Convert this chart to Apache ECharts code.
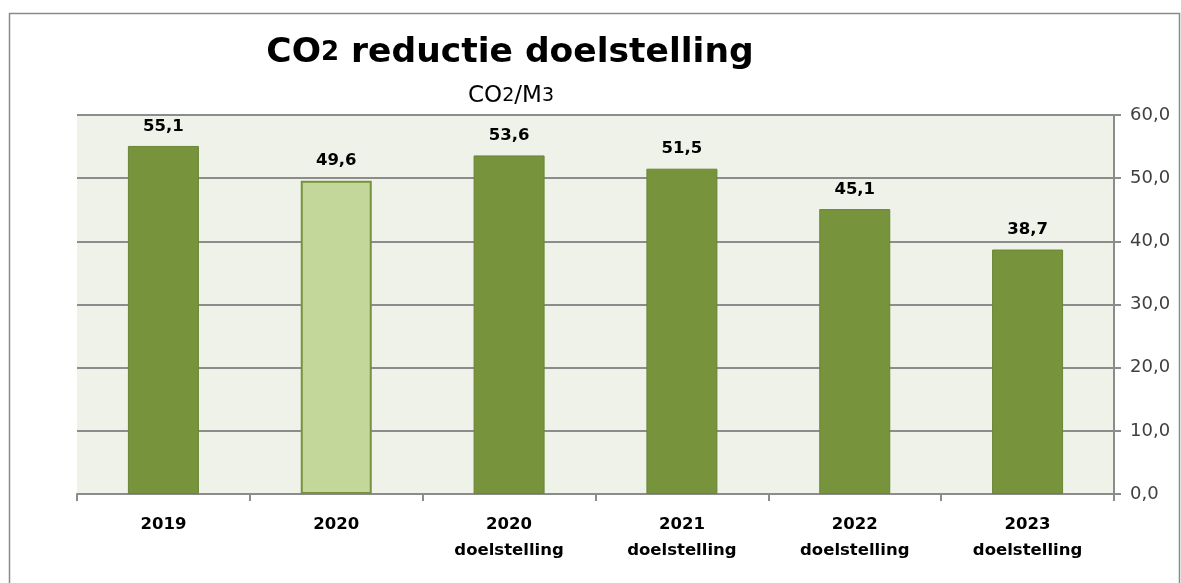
<!DOCTYPE html>
<html><head><meta charset="utf-8">
<script src="https://cdn.jsdelivr.net/npm/echarts@6/dist/echarts.min.js"></script>
<style>html,body{margin:0;padding:0;background:#fff}#c{width:1181px;height:583px}</style>
</head><body><div id="c"></div>
<script>
const categories = ['2019', '2020', '2020\ndoelstelling', '2021\ndoelstelling', '2022\ndoelstelling', '2023\ndoelstelling'];
const values = [55.1, 49.6, 53.6, 51.5, 45.1, 38.7];
const highlighted = [false, true, false, false, false, false];
const yTicks = { min: 0, max: 60, interval: 10 };

const FONT = '"DejaVu Sans", sans-serif';
const chart = echarts.init(document.getElementById('c'));
chart.setOption({
  animation: false,
  title: [{
    text: '{a|CO}{b|2}{a| reductie doelstelling}',
    left: 505, textAlign: 'center', top: 31,
    textStyle: { rich: {
      a: { fontFamily: FONT, fontWeight: 'bold', fontSize: 34.5, color: '#000' },
      b: { fontFamily: FONT, fontWeight: 'bold', fontSize: 26, color: '#000' }
    } }
  }, {
    text: '{a|CO}{b|2}{a|/M}{b|3}',
    left: 506, textAlign: 'center', top: 80,
    textStyle: { fontWeight: 'normal', rich: {
      a: { fontFamily: FONT, fontWeight: 'normal', fontSize: 23, color: '#000' },
      b: { fontFamily: FONT, fontWeight: 'normal', fontSize: 19, color: '#000' }
    } }
  }],
  graphic: [{
    type: 'rect', shape: { x: 9.5, y: 13.5, width: 1170, height: 600 },
    style: { fill: 'none', stroke: '#8a8a8a', lineWidth: 1.5 }, silent: true, z: -10
  }],
  grid: { left: 77, right: 67, top: 115, bottom: 89, show: true, backgroundColor: '#eff2e9', borderWidth: 0 },
  xAxis: {
    type: 'category', data: categories,
    axisLine: { lineStyle: { color: '#8c8c8c', width: 2 } },
    axisTick: { show: true, length: 7, lineStyle: { color: '#8c8c8c', width: 2 } },
    axisLabel: { color: '#000', fontFamily: FONT, fontWeight: 'bold', fontSize: 16.5, lineHeight: 26, margin: 18 }
  },
  yAxis: {
    type: 'value', position: 'right', min: yTicks.min, max: yTicks.max, interval: yTicks.interval,
    axisLine: { show: true, lineStyle: { color: '#8c8c8c', width: 2 } },
    axisTick: { show: true, length: 7, lineStyle: { color: '#8c8c8c', width: 2 } },
    splitLine: { lineStyle: { color: '#8c8c8c', width: 2 } },
    axisLabel: { color: '#404040', fontFamily: FONT, fontSize: 18, margin: 16,
      formatter: v => v.toFixed(1).replace('.', ',') }
  },
  series: [{
    type: 'bar', barWidth: 71,
    data: values.map((v, i) => ({
      value: v,
      itemStyle: highlighted[i]
        ? { color: '#c4d79b', borderColor: '#76923c', borderWidth: 2 }
        : { color: '#77933c', borderColor: '#6a8535', borderWidth: 1 }
    })),
    label: { show: true, position: 'top', distance: 11, color: '#000', fontFamily: FONT, fontWeight: 'bold', fontSize: 16.5,
      formatter: p => p.value.toFixed(1).replace('.', ',') }
  }]
});
</script></body></html>
